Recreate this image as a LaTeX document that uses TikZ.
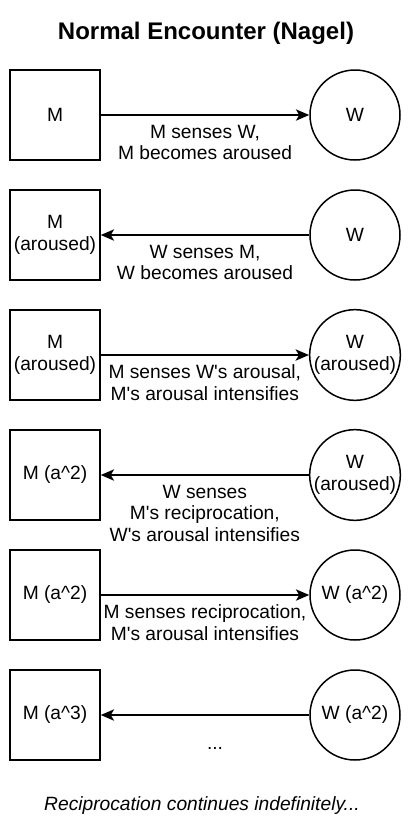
\documentclass[tikz,border=0pt]{standalone}
\usepackage{fontspec}
\setmainfont{Liberation Sans}
\usetikzlibrary{arrows.meta}

\tikzset{every picture/.style={line width=1.125pt}}
\tikzset{
  mbox/.style={draw, rectangle, minimum size=67.5pt, inner sep=0pt, align=center, font=\fontsize{14.4}{16.2}\selectfont},
  wcirc/.style={draw, circle, minimum size=67.5pt, inner sep=0pt, align=center, font=\fontsize{14.4}{16.2}\selectfont},
  conn/.style={-{Stealth[length=10pt, width=8.5pt, inset=2.5pt]}},
  lbl/.style={anchor=north, inner sep=0pt, yshift=-6.9pt, align=center, font=\fontsize{14.4}{16.2}\selectfont}
}
\newcommand{\q}{\textquotesingle}

\begin{document}
\begin{tikzpicture}[x=0.75pt,y=0.75pt,yscale=-1,xscale=1]
\useasboundingbox (0,0) rectangle (413,833); %set diagram left start at 0, and has height of 833

% Text Node
\node [font=\bfseries\fontsize{18}{21.6}\selectfont, inner sep=0pt] (title) at (206,33) {Normal Encounter (Nagel)};

%Shape: Square
\node [mbox] (m1) at (55,115) {M};
%Shape: Circle
\node [wcirc] (w1) at (355,115) {W};
%Straight Lines
\draw [conn] (m1) -- (w1) node [midway, lbl] (l1) {M senses W,\\M becomes aroused};

%Shape: Square
\node [mbox] (m2) at (55,235) {M\\(aroused)};
%Shape: Circle
\node [wcirc] (w2) at (355,235) {W};
%Straight Lines
\draw [conn] (w2) -- (m2) node [midway, lbl] (l2) {W senses M,\\W becomes aroused};

%Shape: Square
\node [mbox] (m3) at (55,355) {M\\(aroused)};
%Shape: Circle
\node [wcirc] (w3) at (355,355) {W\\(aroused)};
%Straight Lines
\draw [conn] (m3) -- (w3) node [midway, lbl] (l3) {M senses W\q s arousal,\\M\q s arousal intensifies};

%Shape: Square
\node [mbox] (m4) at (55,475) {M (a\^{}2)};
%Shape: Circle
\node [wcirc] (w4) at (355,475) {W\\(aroused)};
%Straight Lines
\draw [conn] (w4) -- (m4) node [midway, lbl] (l4) {W senses\\M\q s reciprocation,\\W\q s arousal intensifies};

%Shape: Square
\node [mbox] (m5) at (55,595) {M (a\^{}2)};
%Shape: Circle
\node [wcirc] (w5) at (355,595) {W (a\^{}2)};
%Straight Lines
\draw [conn] (m5) -- (w5) node [midway, lbl] (l5) {M senses reciprocation,\\M\q s arousal intensifies};

%Shape: Square
\node [mbox] (m6) at (55,715) {M (a\^{}3)};
%Shape: Circle
\node [wcirc] (w6) at (355,715) {W (a\^{}2)};
%Straight Lines
\draw [conn] (w6) -- (m6);

% Text Node
\node [anchor=base, inner sep=0pt, font=\fontsize{14.4}{16.2}\selectfont] (l6) at (215,749) {...};

% Text Node
\node [inner sep=0pt, font=\itshape\fontsize{14.4}{16.2}\selectfont] (note) at (202,806) {Reciprocation continues indefinitely...};

\end{tikzpicture}
\end{document}
